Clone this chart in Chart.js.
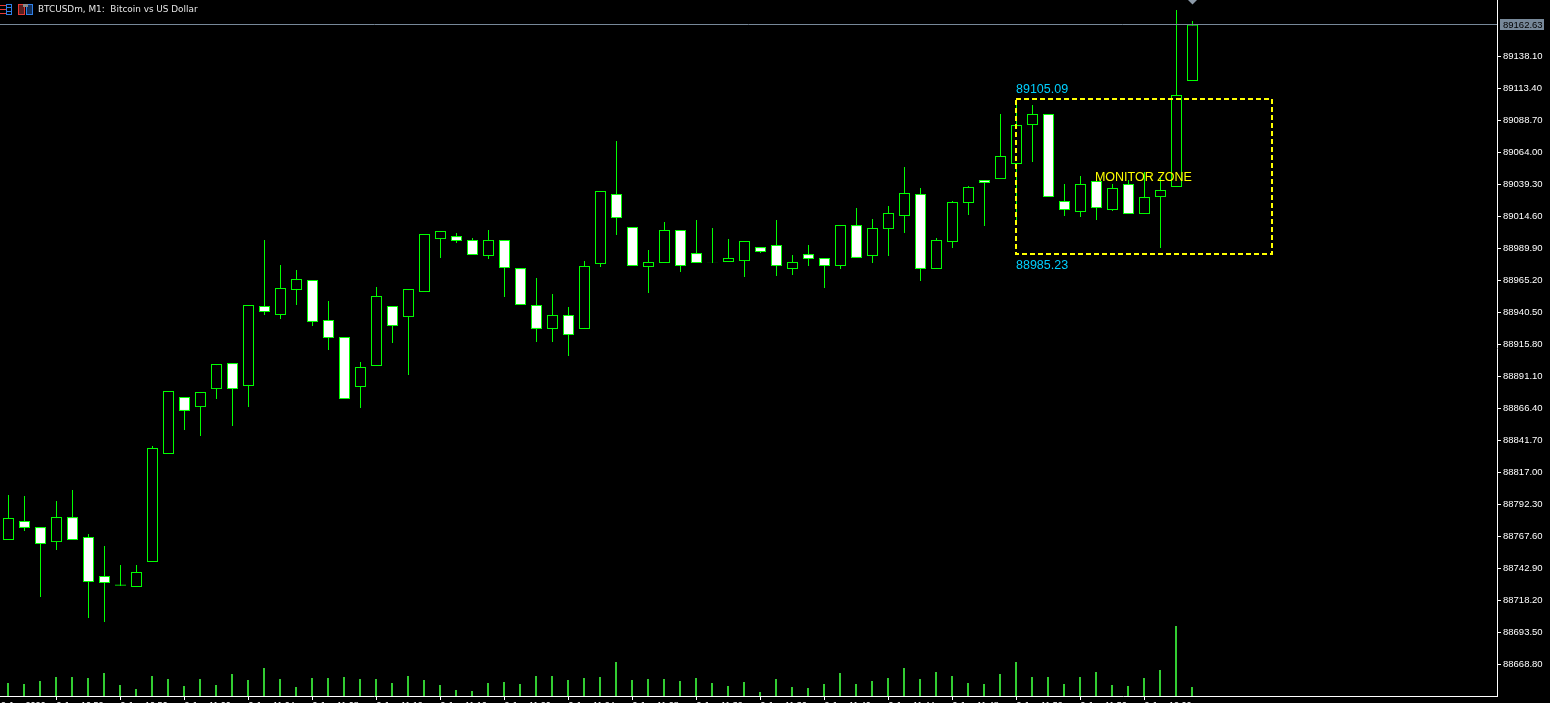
<!DOCTYPE html>
<html>
<head>
<meta charset="utf-8">
<title>BTCUSDm, M1</title>
<script src="https://cdn.jsdelivr.net/npm/chart.js@4"></script>
<style>
    html, body { margin: 0; padding: 0; background: #000; overflow: hidden; }
    canvas { display: block; }
</style>
</head>
<body>
<canvas id="candleChart" width="1550" height="703"></canvas>
<script>
// Candles, oldest first
const opens = [
    88764.9, 88779.6, 88774.9, 88763.3, 88782.6, 88767.2, 88737.1, 88729.6, 88728.6, 88747.9,
    88831.3, 88875.3, 88867.5, 88881.4, 88901.5, 88883.8, 88945.5, 88938.6, 88957.9, 88965.6,
    88934.7, 88921.6, 88883.0, 88899.2, 88945.5, 88937.0, 88956.3, 88997.2, 88999.5, 88996.5,
    88984.1, 88996.5, 88974.8, 88946.3, 88927.8, 88938.6, 88927.8, 88977.9, 89032.0, 89006.5,
    88975.6, 88978.7, 89004.2, 88986.4, 88979.2, 88979.5, 88980.2, 88991.0, 88992.6, 88974.1,
    88985.6, 88982.6, 88976.4, 89008.0, 88984.1, 89004.9, 89015.0, 89032.0, 88974.1, 88994.9,
    89025.0, 89042.8, 89043.5, 89055.1, 89085.2, 89093.7, 89026.6, 89018.1, 89042.0, 89019.6,
    89039.7, 89016.5, 89029.6, 89037.4, 89119.2
];
const highs = [
    88799.6, 88798.9, 88774.9, 88795.0, 88803.5, 88769.5, 88760.3, 88745.6, 88745.6, 88837.4,
    88879.9, 88875.3, 88879.1, 88900.7, 88901.5, 88946.3, 88996.5, 88977.2, 88973.3, 88965.6,
    88949.4, 88921.6, 88902.3, 88960.2, 88945.5, 88958.6, 89001.1, 89003.4, 89001.8, 88998.0,
    89004.2, 88996.5, 88974.8, 88967.1, 88954.8, 88944.7, 88980.2, 89034.3, 89072.9, 89006.5,
    88988.7, 89010.3, 89004.2, 89011.9, 89005.7, 88997.2, 88995.7, 88991.0, 89011.9, 88984.9,
    88992.6, 88982.6, 89008.0, 89021.1, 89012.7, 89022.7, 89052.8, 89036.6, 88998.0, 89026.6,
    89038.1, 89042.8, 89093.7, 89101.4, 89100.7, 89093.7, 89039.7, 89045.9, 89042.8, 89039.7,
    89042.8, 89048.9, 89044.3, 89174.0, 89165.5
];
const lows = [
    88764.9, 88771.8, 88720.9, 88757.2, 88764.9, 88704.7, 88701.6, 88729.4, 88728.6, 88747.9,
    88831.3, 88849.8, 88845.2, 88873.7, 88852.9, 88867.5, 88938.6, 88935.5, 88946.3, 88930.1,
    88911.5, 88873.7, 88866.8, 88899.2, 88917.0, 88892.2, 88956.3, 88982.6, 88994.1, 88984.9,
    88981.8, 88952.5, 88946.3, 88917.7, 88917.7, 88906.9, 88927.8, 88975.6, 89000.3, 88976.4,
    88955.5, 88978.7, 88971.7, 88978.7, 88978.7, 88979.5, 88967.9, 88986.4, 88968.7, 88969.4,
    88976.4, 88959.4, 88974.1, 88982.6, 88978.7, 88984.1, 89001.8, 88964.8, 88974.1, 88990.3,
    89015.7, 89007.3, 89043.5, 89011.9, 89056.7, 89029.6, 89015.0, 89014.2, 89011.9, 89018.8,
    89016.5, 89016.5, 88990.3, 89037.4, 89119.2
];
const closes = [
    88781.9, 88774.2, 88761.8, 88782.6, 88764.9, 88732.5, 88731.7, 88730.6, 88740.2, 88835.9,
    88879.9, 88864.5, 88879.1, 88900.7, 88881.4, 88946.3, 88940.9, 88959.4, 88966.3, 88933.2,
    88920.8, 88873.7, 88898.4, 88953.2, 88930.1, 88958.6, 89001.1, 89003.4, 88995.7, 88984.9,
    88996.5, 88974.8, 88946.3, 88927.8, 88938.6, 88923.1, 88976.4, 89034.3, 89013.4, 88976.4,
    88979.5, 89004.2, 88976.4, 88978.7, 88979.5, 88982.6, 88995.7, 88987.2, 88976.4, 88979.5,
    88981.8, 88976.4, 89008.0, 88982.6, 89005.7, 89017.3, 89032.7, 88974.1, 88996.5, 89025.8,
    89037.4, 89040.5, 89061.3, 89085.2, 89093.7, 89029.6, 89019.6, 89039.7, 89021.1, 89036.6,
    89016.5, 89029.6, 89035.0, 89108.4, 89162.63
];
const volumes = [
    13, 12, 15, 19, 19, 18, 23, 11, 7, 20, 17, 10, 17, 11, 22, 16, 28, 17, 9, 18,
    18, 19, 17, 17, 13, 20, 16, 11, 6, 5, 13, 14, 12, 20, 20, 16, 18, 19, 34, 16,
    17, 17, 15, 18, 13, 10, 14, 4, 17, 9, 8, 12, 23, 12, 15, 18, 28, 17, 24, 20,
    13, 12, 22, 34, 19, 19, 12, 19, 24, 11, 10, 18, 26, 70, 9
];

// Axis labels
const priceTicks = [
    88668.80, 88693.50, 88718.20, 88742.90, 88767.60, 88792.30, 88817.00, 88841.70, 88866.40, 88891.10,
    88915.80, 88940.50, 88965.20, 88989.90, 89014.60, 89039.30, 89064.00, 89088.70, 89113.40, 89138.10
];
const timeTickBars = [-0.47, 3, 7, 11, 15, 19, 23, 27, 31, 35, 39, 43, 47, 51, 55, 59, 63, 67, 71];
const timeTickLabels = [
    '9 Jan 2026', '9 Jan 10:52', '9 Jan 10:56', '9 Jan 11:00', '9 Jan 11:04', '9 Jan 11:08', '9 Jan 11:12',
    '9 Jan 11:16', '9 Jan 11:20', '9 Jan 11:24', '9 Jan 11:28', '9 Jan 11:32', '9 Jan 11:36', '9 Jan 11:40',
    '9 Jan 11:44', '9 Jan 11:48', '9 Jan 11:52', '9 Jan 11:56', '9 Jan 12:00'
];

// Monitor zone and last price
const zoneHigh = 89105.09;
const zoneLow = 88985.23;
const zoneFirstBar = 63;
const zoneLastBar = 79;
const zoneTitle = 'MONITOR ZONE';
const zoneTitleBar = 67.9;
const zoneTitlePrice = 89045.0;
const lastPrice = 89162.63;
const chartTitle = 'BTCUSDm, M1:  Bitcoin vs US Dollar';

const GREEN = '#00ff00';
const VOLUME_GREEN = '#32cd32';
const PRICE_LINE = '#778899';

// Title, icons, zone box and last price marker
const overlayPlugin = {
    id: 'overlay',
    afterDraw(chart) {
        const { ctx, scales } = chart;
        const { x, y } = scales;
        const area = chart.chartArea;

        ctx.save();

        // Last price line and its box on the axis
        const lastY = Math.floor(y.getPixelForValue(lastPrice)) + 0.5;
        ctx.strokeStyle = PRICE_LINE;
        ctx.lineWidth = 1;
        ctx.beginPath();
        ctx.moveTo(area.left, lastY);
        ctx.lineTo(area.right, lastY);
        ctx.stroke();
        ctx.fillStyle = PRICE_LINE;
        ctx.fillRect(1500, lastY - 5.5, 44, 11);
        ctx.fillStyle = '#000';
        ctx.font = '9.5px "Liberation Sans"';
        ctx.textBaseline = 'middle';
        ctx.textAlign = 'left';
        ctx.fillText(lastPrice.toFixed(2), 1503, lastY + 0.5);

        // Arrow over the last bar
        const markX = x.getPixelForValue(opens.length - 1);
        ctx.fillStyle = '#8c9aa8';
        ctx.beginPath();
        ctx.moveTo(markX - 4.5, 0);
        ctx.lineTo(markX + 4.5, 0);
        ctx.lineTo(markX, 4.5);
        ctx.closePath();
        ctx.fill();

        // Zone box
        const boxLeft = Math.floor(x.getPixelForValue(zoneFirstBar));
        const boxRight = Math.floor(x.getPixelForValue(zoneLastBar));
        const boxTop = Math.floor(y.getPixelForValue(zoneHigh));
        const boxBottom = Math.floor(y.getPixelForValue(zoneLow));
        ctx.strokeStyle = '#ffff00';
        ctx.lineWidth = 2;
        ctx.setLineDash([5, 3]);
        ctx.strokeRect(boxLeft, boxTop, boxRight - boxLeft, boxBottom - boxTop);
        ctx.setLineDash([]);

        // Zone labels
        ctx.font = '12.5px "Liberation Sans"';
        ctx.textBaseline = 'alphabetic';
        ctx.fillStyle = '#00d0ff';
        ctx.fillText(zoneHigh.toFixed(2), boxLeft, boxTop - 6);
        ctx.fillText(zoneLow.toFixed(2), boxLeft, boxBottom + 15);
        ctx.fillStyle = '#ffff00';
        ctx.textBaseline = 'middle';
        ctx.fillText(zoneTitle, x.getPixelForValue(zoneTitleBar), y.getPixelForValue(zoneTitlePrice));

        // Window title
        ctx.font = '8.9px "DejaVu Sans"';
        ctx.fillStyle = '#e6e6e6';
        ctx.fillText(chartTitle, 38, 9.5);

        // Toolbar icons
        ctx.fillStyle = '#e53935';
        [5, 9, 13].forEach(row => ctx.fillRect(0, row, 6, 1));
        ctx.strokeStyle = '#2f7fe6';
        ctx.lineWidth = 1;
        ctx.strokeRect(6.5, 4.5, 5, 10);
        ctx.fillStyle = '#2f7fe6';
        [7, 11].forEach(row => ctx.fillRect(6, row, 6, 1));
        ctx.fillStyle = '#5a1e1e';
        ctx.fillRect(18, 4, 7, 11);
        ctx.fillStyle = '#14305a';
        ctx.fillRect(26, 4, 7, 11);
        ctx.strokeStyle = '#e53935';
        ctx.strokeRect(18.5, 4.5, 6, 10);
        ctx.strokeStyle = '#2f7fe6';
        ctx.strokeRect(26.5, 4.5, 6, 10);
        ctx.fillStyle = '#8a8a8a';
        ctx.fillRect(23, 4, 5, 3);

        ctx.restore();
    }
};

// Keep the plot area right up to the canvas edges
function clearAxisPadding(scale) {
    scale.paddingLeft = 0;
    scale.paddingRight = 0;
    scale.paddingTop = 0;
    scale.paddingBottom = 0;
}

const ctx = document.getElementById('candleChart').getContext('2d');

new Chart(ctx, {
    type: 'bar',
    data: {
        datasets: [{
            // Bodies
            label: 'Body',
            data: opens.map((open, i) => ({ x: i, y: [open, closes[i]] })),
            order: 1,
            grouped: false,
            barThickness: 11,
            borderWidth: 1,
            borderSkipped: false,
            inflateAmount: 0,
            borderColor: GREEN,
            backgroundColor: c => (closes[c.dataIndex] >= opens[c.dataIndex] ? '#000000' : '#ffffff')
        }, {
            // Wicks
            label: 'Wick',
            data: lows.map((low, i) => ({ x: i, y: [low, highs[i]] })),
            order: 2,
            grouped: false,
            barThickness: 1,
            borderWidth: 0,
            inflateAmount: 0,
            backgroundColor: GREEN
        }, {
            // Tick volume
            label: 'Volume',
            data: volumes.map((volume, i) => ({ x: i, y: volume })),
            xAxisID: 'xVolume',
            yAxisID: 'yVolume',
            order: 3,
            grouped: false,
            barThickness: 2,
            borderWidth: 0,
            inflateAmount: 0,
            backgroundColor: VOLUME_GREEN
        }]
    },
    options: {
        responsive: false,
        animation: false,
        devicePixelRatio: 1,
        layout: { padding: 0 },
        plugins: {
            legend: { display: false },
            title: { display: false },
            tooltip: { enabled: false }
        },
        scales: {
            x: {
                type: 'linear',
                position: 'bottom',
                offset: false,
                min: -0.53125,
                max: 93.03125,
                afterBuildTicks: scale => { scale.ticks = timeTickBars.map(value => ({ value })); },
                afterFit: scale => { scale.height = 7; clearAxisPadding(scale); },
                border: { display: true, color: '#ffffff', width: 1 },
                grid: {
                    offset: false,
                    drawOnChartArea: false,
                    drawTicks: true,
                    tickLength: 4,
                    tickColor: c => (c.index === 0 ? 'transparent' : '#ffffff')
                },
                ticks: {
                    autoSkip: false,
                    maxRotation: 0,
                    align: 'start',
                    padding: 0,
                    color: '#ffffff',
                    font: { family: '"Liberation Sans"', size: 9 },
                    callback: (value, index) => timeTickLabels[index]
                }
            },
            y: {
                type: 'linear',
                position: 'right',
                min: 88644.49,
                max: 89181.71,
                afterBuildTicks: scale => { scale.ticks = priceTicks.map(value => ({ value })); },
                afterFit: scale => { scale.width = 53; clearAxisPadding(scale); },
                border: { display: true, color: '#ffffff', width: 1 },
                grid: {
                    drawOnChartArea: false,
                    drawTicks: true,
                    tickLength: 4,
                    tickColor: '#ffffff'
                },
                ticks: {
                    autoSkip: false,
                    padding: 2,
                    color: '#ffffff',
                    font: { family: '"Liberation Sans"', size: 9.5 },
                    callback: value => value.toFixed(2)
                }
            },
            xVolume: {
                type: 'linear',
                display: false,
                offset: false,
                min: -0.5,
                max: 93.0625
            },
            yVolume: {
                type: 'linear',
                display: false,
                min: 0,
                max: 696
            }
        }
    },
    plugins: [overlayPlugin]
});
</script>
</body>
</html>
